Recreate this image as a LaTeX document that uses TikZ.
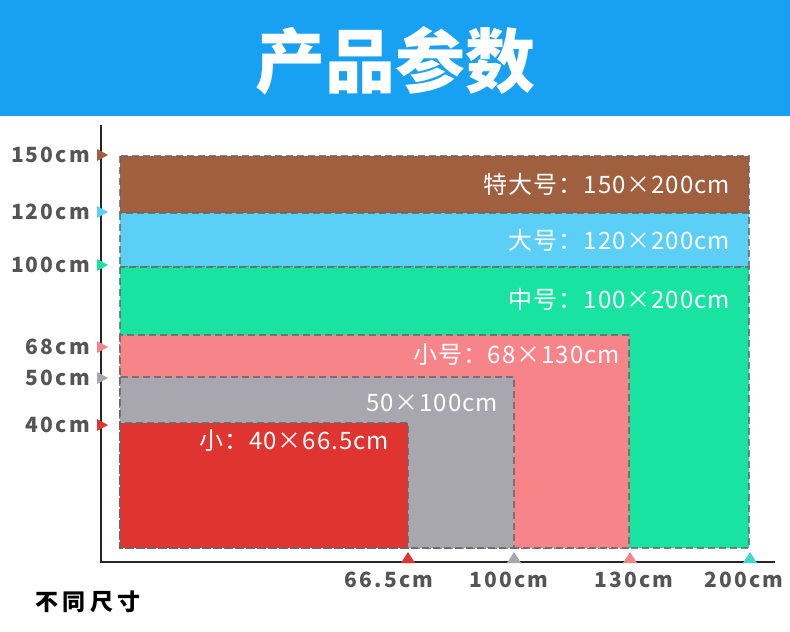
\documentclass[tikz,border=0pt]{standalone}
\usepackage{fontspec}
\setmainfont{Noto Sans CJK SC}
\newfontfamily\axisfont[LetterSpace=10]{Noto Sans CJK SC}
\newfontfamily\sizefont[LetterSpace=4]{Noto Sans CJK SC}
\newfontfamily\capfont[LetterSpace=18]{Noto Sans CJK SC}
\definecolor{headblue}{HTML}{18A0F3}
\definecolor{szbrown}{HTML}{A0603F}
\definecolor{szblue}{HTML}{5BCFF5}
\definecolor{szgreen}{HTML}{19E3A0}
\definecolor{szpink}{HTML}{F68488}
\definecolor{szgray}{HTML}{A8A7B0}
\definecolor{szred}{HTML}{DF3430}
\definecolor{szcyan}{HTML}{3DD8D0}
\definecolor{axisgray}{HTML}{555555}

\begin{document}
\begin{tikzpicture}[x=1pt,y=-1pt,
  sizebox/.style = {draw=black!60, draw opacity=0.8, dash pattern=on 7pt off 4pt,
                    line width=1.6pt},
  sizelabel/.style = {anchor=east, text=white, inner sep=0pt,
                      font=\sizefont\fontsize{24}{27}\selectfont},
  axislabel/.style = {text=axisgray, inner sep=0pt,
                      font=\axisfont\bfseries\fontsize{21}{24}\selectfont}
                    ]
\useasboundingbox (0,0) rectangle (790,632);

% header
\fill[headblue] (0,0) rectangle (790,116);
\node[text=white, font=\bfseries\fontsize{70}{76}\selectfont] (title) at (395,61) {产品参数};

% size boxes, biggest first
\draw[sizebox, fill=szbrown] (120,156) rectangle (749,213);
\draw[sizebox, fill=szblue]  (120,213) rectangle (749,267);
\draw[sizebox, fill=szgreen] (120,267) rectangle (749,548);
\draw[sizebox, fill=szpink]  (120,335) rectangle (629,548);
\draw[sizebox, fill=szgray]  (120,377) rectangle (514,548);
\draw[sizebox, fill=szred]   (120,423) rectangle (408,548);

\node[sizelabel] (xl) at (730,184) {特大号：150×200cm};
\node[sizelabel] (l)  at (730,240) {大号：120×200cm};
\node[sizelabel] (m)  at (730,299) {中号：100×200cm};
\node[sizelabel] (s)  at (620,355) {小号：68×130cm};
\node[sizelabel] (t)  at (498,403) {50×100cm};
\node[sizelabel] (xs) at (389,441) {小：40×66.5cm};

% axes
\coordinate (top) at (101,125);
\coordinate (o) at (101,562);
\coordinate (right) at (775,562);
\draw[line width=1.2pt, black!85] (top) -- (o) -- (right);

\foreach \y/\c/\t [count=\i] in {155/szbrown/150cm, 212/szblue/120cm, 265/szgreen/100cm,
                                 347/szpink/68cm, 378/szgray/50cm, 425/szred/40cm}
{
  \node[axislabel, anchor=east] (h\i) at (90,\y) {\t};
  \fill[\c] (97,\y-6) -- (108,\y) -- (97,\y+6) -- cycle;
}

\foreach \x/\c/\t [count=\i] in {408/szred/66.5cm, 514/szgray/100cm,
                                 630/szpink/130cm, 750/szcyan/200cm}
{
  \fill[\c] (\x-7,563) -- (\x,552) -- (\x+7,563) -- cycle;
}
\node[axislabel] (w1) at (389,580) {66.5cm};
\node[axislabel] (w2) at (509,580) {100cm};
\node[axislabel] (w3) at (634,580) {130cm};
\node[axislabel] (w4) at (744,580) {200cm};

\node[text=black, font=\capfont\bfseries\fontsize{23}{26}\selectfont] (caption) at (88,602) {不同尺寸};
\end{tikzpicture}
\end{document}
